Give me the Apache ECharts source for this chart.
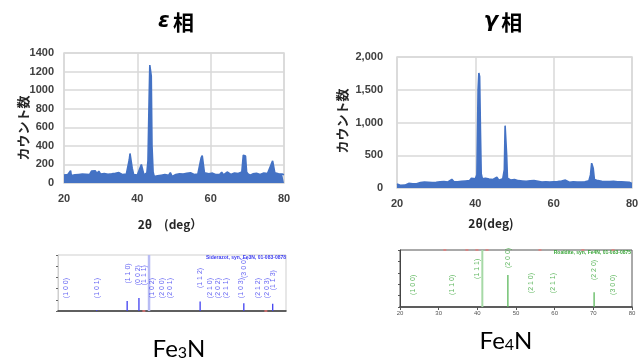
<!DOCTYPE html>
<html>
<head>
<meta charset="utf-8">
<script src="https://cdn.jsdelivr.net/npm/echarts@6/dist/echarts.min.js"></script>
<style>
html,body{margin:0;padding:0;background:#fff;}
#chart{width:643px;height:360px;}
</style>
</head>
<body>
<div id="chart"></div>
<script>
// ---- ε phase XRD scan: [2θ, counts]
const epsilonScan = [
[20.0,85],[20.5,78],[21.0,90],[21.5,72],[21.8,132],[22.0,80],[22.5,70],[23.0,88],[23.5,76],[24.0,92],
[24.5,84],[25.0,96],[25.5,88],[26.0,94],[26.5,102],[27.0,92],[27.5,128],[28.0,110],[28.5,132],[29.0,104],
[29.5,126],[30.0,96],[30.5,90],[31.0,102],[31.5,86],[32.0,94],[32.5,82],[33.0,98],[33.5,90],[34.0,104],
[34.5,122],[35.0,112],[35.5,118],[36.0,90],[36.5,84],[37.0,96],[37.5,110],[37.8,250],[38.0,318],[38.3,300],
[38.6,160],[39.0,90],[39.5,78],[40.0,86],[40.5,92],[40.8,170],[41.1,199],[41.4,150],[41.8,88],[42.2,94],
[42.6,110],[42.9,240],[43.2,880],[43.4,1270],[43.6,1260],[43.8,1150],[44.0,400],[44.3,120],[44.6,70],[45.0,62],
[45.5,78],[46.0,66],[46.5,84],[47.0,72],[47.5,90],[48.0,76],[48.5,82],[49.0,112],[49.5,70],[50.0,86],
[50.5,92],[51.0,78],[51.5,100],[52.0,84],[52.5,96],[53.0,90],[53.5,104],[54.0,96],[54.5,110],[55.0,100],
[55.5,92],[56.0,104],[56.5,96],[57.0,108],[57.4,270],[57.7,296],[58.0,280],[58.3,110],[58.8,92],[59.5,100],
[60.0,94],[60.5,106],[61.0,98],[61.5,90],[62.0,100],[62.5,94],[63.0,116],[63.5,88],[64.0,96],[64.5,118],
[65.0,102],[65.5,92],[66.0,100],[66.5,108],[67.0,96],[67.5,102],[68.0,110],[68.5,120],[68.9,300],[69.2,318],
[69.5,290],[69.8,120],[70.2,96],[70.8,84],[71.5,98],[72.0,88],[72.5,104],[73.0,124],[73.5,92],[74.0,100],
[74.5,108],[75.0,94],[75.5,102],[76.0,110],[76.5,200],[76.9,238],[77.2,220],[77.5,110],[78.0,92],[78.5,100],
[79.0,86],[79.5,96],[80.0,90]
];
// ---- γ phase XRD scan: [2θ, counts]
const gammaScan = [
[20.0,62],[20.5,48],[21.0,40],[21.5,52],[22.0,44],[22.5,58],[23.0,70],[23.5,56],[24.0,64],[24.5,72],
[25.0,66],[25.5,78],[26.0,84],[26.5,76],[27.0,90],[27.5,82],[28.0,88],[28.5,92],[29.0,84],[29.5,96],
[30.0,88],[30.5,100],[31.0,94],[31.5,120],[32.0,98],[32.5,104],[33.0,92],[33.5,110],[34.0,132],[34.5,100],
[35.0,108],[35.5,96],[36.0,112],[36.5,104],[37.0,116],[37.5,108],[38.0,124],[38.5,112],[39.0,150],[39.5,120],
[40.0,140],[40.4,200],[40.7,1500],[40.9,1757],[41.1,1700],[41.3,900],[41.5,220],[41.8,140],[42.2,128],[42.6,150],
[43.0,120],[43.5,136],[44.0,118],[44.5,130],[45.0,112],[45.5,164],[46.0,120],[46.5,132],[47.0,140],[47.4,280],
[47.6,952],[47.8,930],[48.0,500],[48.2,150],[48.6,130],[49.0,122],[49.5,136],[50.0,128],[50.5,120],[51.0,112],
[51.5,124],[52.0,108],[52.5,116],[53.0,104],[53.5,126],[54.0,110],[54.5,100],[55.0,112],[55.5,96],[56.0,104],
[56.5,98],[57.0,92],[57.5,106],[58.0,96],[58.5,100],[59.0,90],[59.5,104],[60.0,96],[60.5,88],[61.0,100],
[61.5,94],[62.0,108],[62.5,92],[63.0,120],[63.5,96],[64.0,88],[64.5,100],[65.0,94],[65.5,104],[66.0,90],
[66.5,98],[67.0,92],[67.5,100],[68.0,96],[68.5,104],[69.0,110],[69.4,200],[69.7,380],[69.9,360],[70.1,300],
[70.4,130],[70.8,100],[71.3,112],[71.8,96],[72.3,104],[72.8,92],[73.3,100],[73.8,88],[74.3,98],[74.8,94],
[75.3,102],[75.8,90],[76.3,96],[76.8,86],[77.3,94],[77.8,88],[78.3,92],[78.8,80],[79.3,86],[79.8,72],[80.0,70]
];

// ---- Fe3N reference pattern (relative intensity %)
const fe3nSticks = [[30.2,2],[38.2,18],[41.3,23],[57.4,17],[68.9,14],[76.5,13]];
const fe3nHighlight = [[43.8,100]];
const fe3nOtherRefs = [[42.6,0],[74.7,0]];
const fe3nHkl = ['(1 0 0)','(1 0 1)','(1 1 0)','(0 0 2)','(1 1 1)','(1 0 2)','(2 0 0)','(2 0 1)','(1 1 2)','(2 1 0)','(2 0 2)','(2 1 1)','(1 0 3)','(3 0 0)','(2 1 2)','(2 0 3)','(1 1 3)'];
const fe3nHkl2Theta = [22.1,30.2,38.5,41.1,42.7,44.7,47.4,49.5,57.4,60.0,62.2,64.1,68.1,68.9,72.7,75.1,76.5];
const fe3nHklLevel = [41,41,67,64,64,41,41,41,59,41,41,41,41,77,41,41,55];

// ---- Fe4N reference pattern (relative intensity %)
const fe4nSticks = [[47.9,56],[70.2,26]];
const fe4nHighlight = [[41.2,100]];
const fe4nOtherRefs = [[31.6,100],[37.3,100],[39.9,100],[42.5,100],[56.2,100],[67.3,100],[75.1,100]];
const fe4nHkl = ['(1 0 0)','(1 1 0)','(1 1 1)','(2 0 0)','(2 1 0)','(2 1 1)','(2 2 0)','(3 0 0)'];
const fe4nHkl2Theta = [23.4,33.4,40.0,47.9,54.0,59.6,70.2,75.0];
const fe4nHklLevel = [39,39,67,86,42,42,65,39];

const BLUE = '#4472c4';
const GRID = '#d9d9d9';
const LBL = {color:'#404040', fontSize:11, fontWeight:'bold', fontFamily:'Liberation Sans, Arial, sans-serif'};

function commas(v){ return String(v).replace(/\B(?=(\d{3})+(?!\d))/g, ','); }
function hklData(names, xs, ys){ return names.map((n,i)=>({name:n, value:[xs[i], ys[i]]})); }

const chart = echarts.init(document.getElementById('chart'), null, {renderer:'canvas'});

const xrdX = (gi, margin) => ({
  type:'value', gridIndex:gi, min:20, max:80, interval:20,
  axisLine:{show:false}, axisTick:{show:false},
  axisLabel:Object.assign({margin:margin}, LBL),
  splitLine:{show:true, lineStyle:{color:GRID, width:1.5}}
});
const xrdY = (gi, max, interval, margin, fmt) => ({
  type:'value', gridIndex:gi, min:0, max:max, interval:interval,
  axisLine:{show:false}, axisTick:{show:false},
  axisLabel:Object.assign({margin:margin, formatter:fmt}, LBL),
  splitLine:{show:true, lineStyle:{color:GRID, width:1.5}}
});

const option = {
  animation:false,
  backgroundColor:'#ffffff',
  grid:[
    {left:64, top:53, width:220, height:130, show:true, borderColor:GRID, borderWidth:1.5},
    {left:397, top:57, width:235, height:131, show:true, borderColor:GRID, borderWidth:1.5},
    {left:58, top:255, width:228, height:56, show:true, borderColor:'#cfcfcf', borderWidth:1},
    {left:400, top:250, width:232, height:57, show:true, borderColor:'#555', borderWidth:1}
  ],
  xAxis:[
    xrdX(0, 10),
    xrdX(1, 10),
    {type:'value', gridIndex:2, min:20, max:80, interval:10,
     axisLine:{show:true, lineStyle:{color:'#333', width:1.5}}, axisTick:{show:false},
     axisLabel:{show:false}, splitLine:{show:false}},
    {type:'value', gridIndex:3, min:20, max:80, interval:10,
     axisLine:{show:true, lineStyle:{color:'#444', width:1.5}},
     axisTick:{show:true, length:3, lineStyle:{color:'#555'}},
     axisLabel:{show:true, fontSize:6, color:'#555', margin:3, fontFamily:'Liberation Sans Narrow, Liberation Sans, sans-serif'},
     splitLine:{show:false}}
  ],
  yAxis:[
    xrdY(0, 1400, 200, 10, v=>String(v)),
    xrdY(1, 2000, 500, 14, v=>commas(v)),
    {type:'value', gridIndex:2, min:0, max:100, interval:20,
     axisLine:{show:true, lineStyle:{color:'#cfcfcf'}},
     axisTick:{show:true, length:2, lineStyle:{color:'#666'}},
     axisLabel:{show:false}, splitLine:{show:false}},
    {type:'value', gridIndex:3, min:0, max:100, interval:20,
     axisLine:{show:true, lineStyle:{color:'#444'}},
     axisTick:{show:true, length:2, lineStyle:{color:'#555'}},
     axisLabel:{show:false}, splitLine:{show:false}}
  ],
  series:[
    {type:'line', xAxisIndex:0, yAxisIndex:0, data:epsilonScan, showSymbol:false, silent:true,
     lineStyle:{color:BLUE, width:1.6}, areaStyle:{color:BLUE, opacity:1}, z:3},
    {type:'line', xAxisIndex:1, yAxisIndex:1, data:gammaScan, showSymbol:false, silent:true,
     lineStyle:{color:BLUE, width:1.6}, areaStyle:{color:BLUE, opacity:1}, z:3},

    // Fe3N sticks
    {type:'bar', xAxisIndex:2, yAxisIndex:2, data:fe3nHighlight, barWidth:2.5, barGap:'-100%',
     itemStyle:{color:'#b8bcf4'}, silent:true, z:2},
    {type:'bar', xAxisIndex:2, yAxisIndex:2, data:fe3nSticks, barWidth:1.3, barGap:'-100%',
     itemStyle:{color:'#4040f0'}, silent:true, z:3},
    {type:'scatter', xAxisIndex:2, yAxisIndex:2, data:fe3nOtherRefs, symbol:'rect', symbolSize:[3,2],
     itemStyle:{color:'#e07070'}, silent:true, z:4},
    {type:'scatter', xAxisIndex:2, yAxisIndex:2, data:hklData(fe3nHkl, fe3nHkl2Theta, fe3nHklLevel),
     symbolSize:0, silent:true, z:5,
     label:{show:true, position:'inside', rotate:90, formatter:p=>p.name, fontSize:7,
            color:'#3c3cf0', fontFamily:'Liberation Sans, sans-serif'}},

    // Fe4N sticks
    {type:'bar', xAxisIndex:3, yAxisIndex:3, data:fe4nHighlight, barWidth:2, barGap:'-100%',
     itemStyle:{color:'#a6d9a6'}, silent:true, z:2},
    {type:'bar', xAxisIndex:3, yAxisIndex:3, data:fe4nSticks, barWidth:1.3, barGap:'-100%',
     itemStyle:{color:'#5cb85c'}, silent:true, z:3},
    {type:'scatter', xAxisIndex:3, yAxisIndex:3, data:fe4nOtherRefs, symbol:'rect', symbolSize:[3,2],
     itemStyle:{color:'#e08080'}, silent:true, z:4},
    {type:'scatter', xAxisIndex:3, yAxisIndex:3, data:hklData(fe4nHkl, fe4nHkl2Theta, fe4nHklLevel),
     symbolSize:0, silent:true, z:5,
     label:{show:true, position:'inside', rotate:90, formatter:p=>p.name, fontSize:7,
            color:'#3aa63a', fontFamily:'Liberation Sans, sans-serif'}}
  ],
  graphic:[
    {type:'text', x:176, y:22, style:{
      text:'{e|ε} {k|相}', align:'center', verticalAlign:'middle',
      rich:{e:{fontFamily:'DejaVu Sans', fontStyle:'italic', fontWeight:'bold', fontSize:21, fill:'#000'},
            k:{fontFamily:'Noto Sans CJK JP', fontWeight:'bold', fontSize:21, fill:'#000'}}}},
    {type:'text', x:503, y:22, style:{
      text:'{e|γ} {k|相}', align:'center', verticalAlign:'middle',
      rich:{e:{fontFamily:'DejaVu Sans', fontStyle:'italic', fontWeight:'bold', fontSize:21, fill:'#000'},
            k:{fontFamily:'Noto Sans CJK JP', fontWeight:'bold', fontSize:21, fill:'#000'}}}},
    {type:'text', x:23, y:128, rotation:Math.PI/2, style:{
      text:'カウント数', align:'center', verticalAlign:'middle',
      font:'bold 13px "Noto Sans CJK JP"', fill:'#262626'}},
    {type:'text', x:342, y:121, rotation:Math.PI/2, style:{
      text:'カウント数', align:'center', verticalAlign:'middle',
      font:'bold 13px "Noto Sans CJK JP"', fill:'#262626'}},
    {type:'text', x:170, y:224, style:{
      text:'2θ　(deg）', align:'center', verticalAlign:'middle',
      font:'bold 12px "Noto Sans CJK JP"', fill:'#262626'}},
    {type:'text', x:491, y:223, style:{
      text:'2θ(deg)', align:'center', verticalAlign:'middle',
      font:'bold 12px "Noto Sans CJK JP"', fill:'#262626'}},
    {type:'text', x:286, y:258, style:{
      text:'Siderazot, syn, Fe3N, 01-083-0878', align:'right', verticalAlign:'middle',
      font:'bold 5px "Liberation Sans Narrow", sans-serif', fill:'#3c3cf0'}},
    {type:'text', x:631, y:253, style:{
      text:'Roaldite, syn, Fe4N, 01-083-0875', align:'right', verticalAlign:'middle',
      font:'bold 5px "Liberation Sans Narrow", sans-serif', fill:'#3aa63a'}},
    {type:'text', x:179, y:349, style:{
      text:'{a|Fe}{b|3}{a|N}', align:'center', verticalAlign:'middle',
      rich:{a:{fontFamily:'Lato', fontSize:24, fill:'#000', verticalAlign:'bottom'},
            b:{fontFamily:'Lato', fontSize:16, fill:'#000', verticalAlign:'bottom'}}}},
    {type:'text', x:506, y:341, style:{
      text:'{a|Fe}{b|4}{a|N}', align:'center', verticalAlign:'middle',
      rich:{a:{fontFamily:'Lato', fontSize:24, fill:'#000', verticalAlign:'bottom'},
            b:{fontFamily:'Lato', fontSize:16, fill:'#000', verticalAlign:'bottom'}}}}
  ]
};
chart.setOption(option);
</script>
</body>
</html>
